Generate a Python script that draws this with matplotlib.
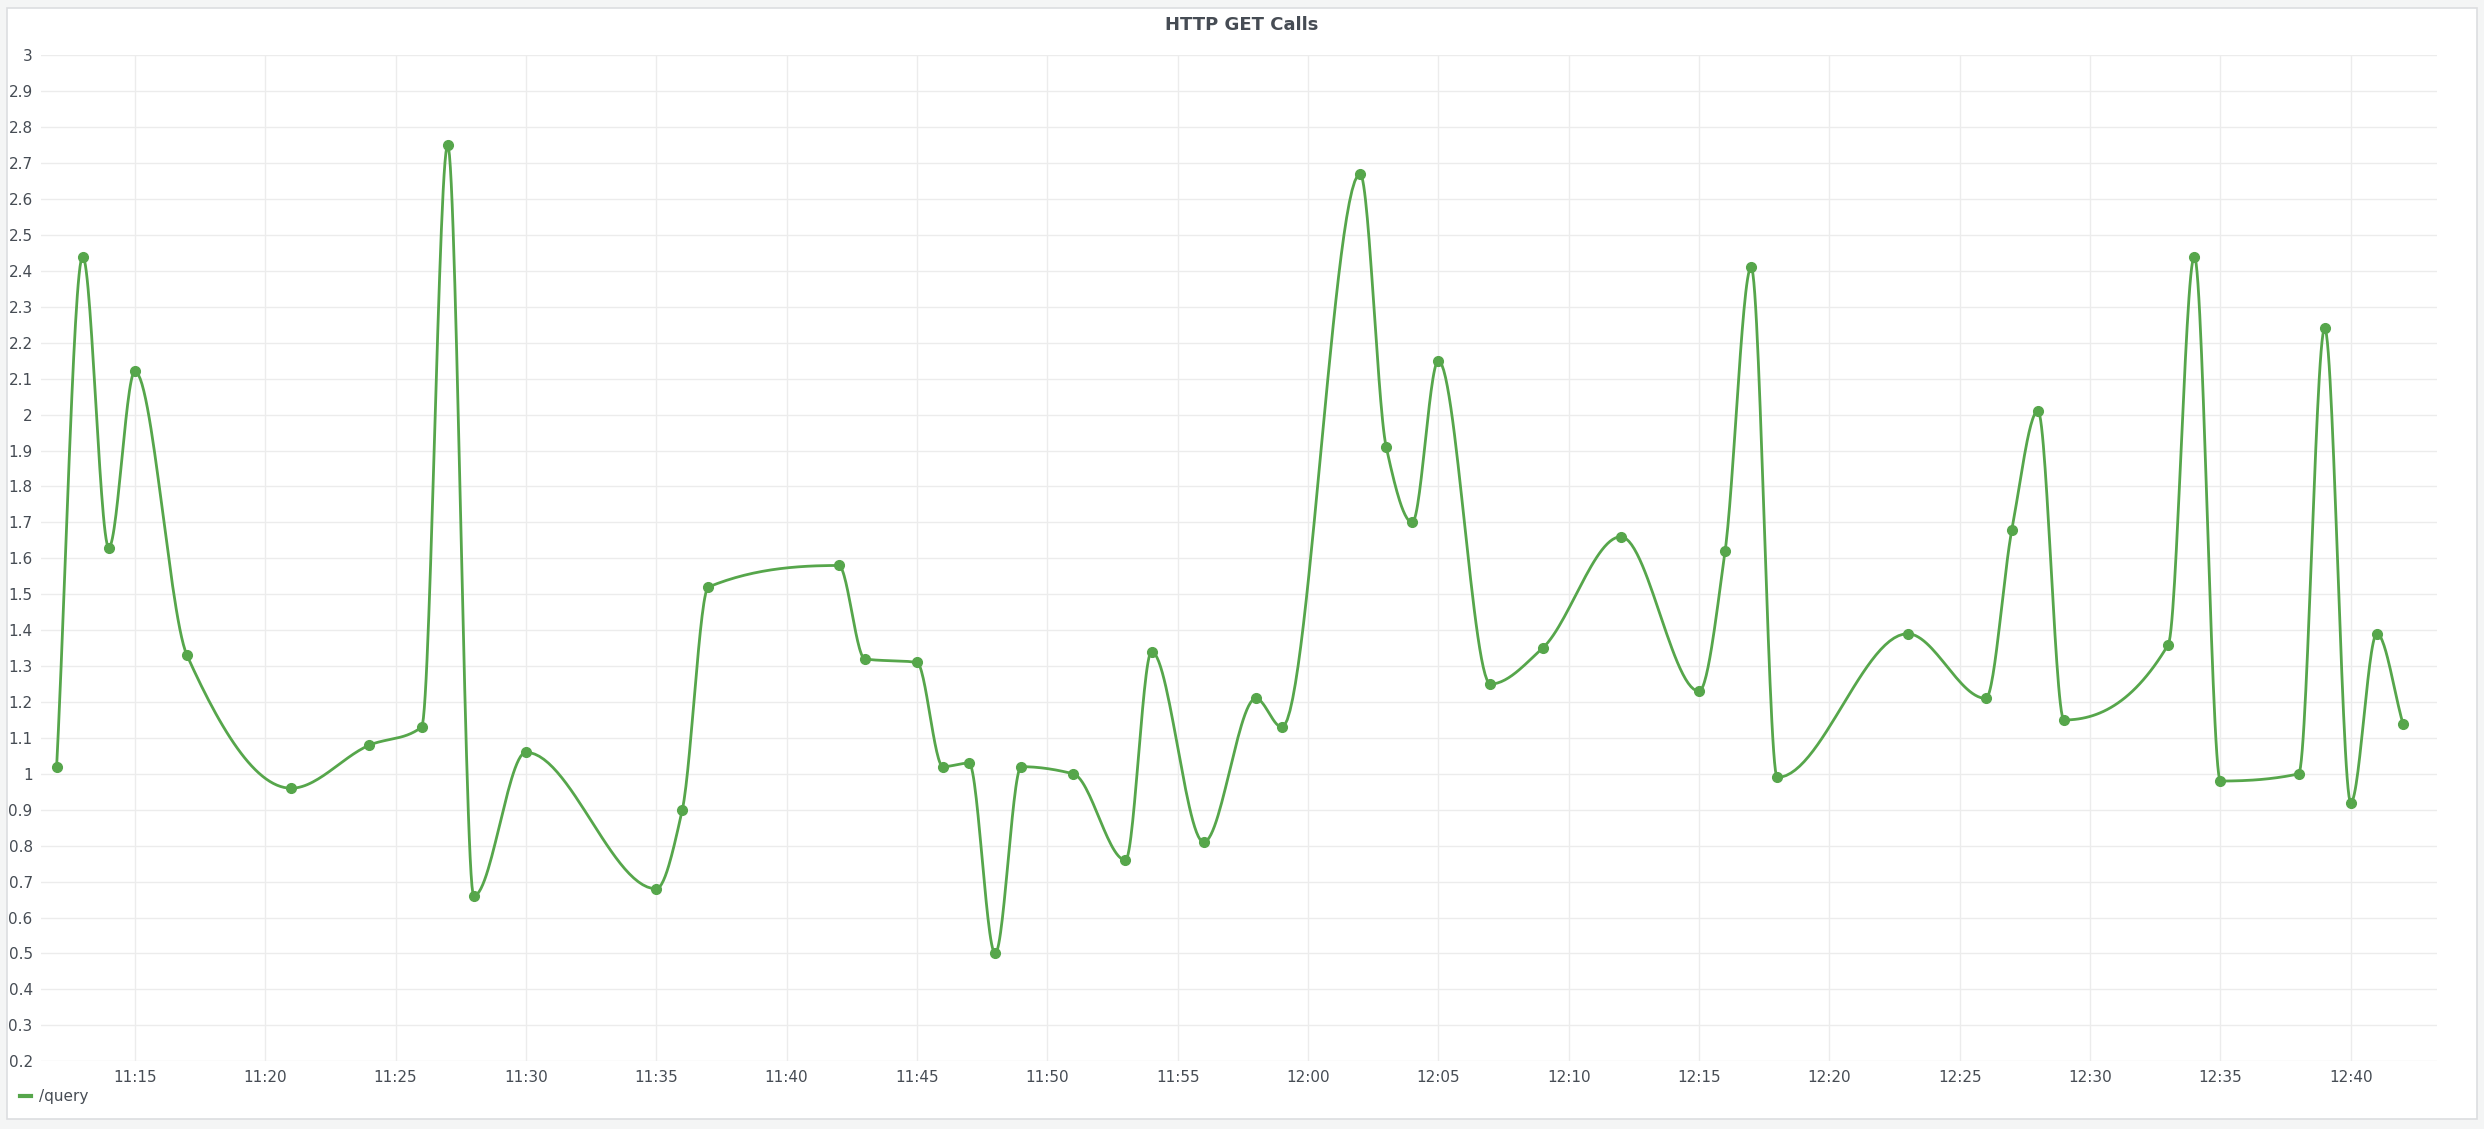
import matplotlib.pyplot as plt
from matplotlib.patches import Rectangle
import numpy as np

# minutes after 11:00 and values
minutes = [12, 13, 14, 15, 17, 21, 24, 26, 27, 28, 30, 35, 36, 37, 42, 43, 45, 46, 47, 48,
           49, 51, 53, 54, 56, 58, 59, 62, 63, 64, 65, 67, 69, 72, 75, 76, 77, 78, 83, 86,
           87, 88, 89, 93, 94, 95, 98, 99, 100, 101, 102]
calls = [1.02, 2.44, 1.63, 2.12, 1.33, 0.96, 1.08, 1.13, 2.75, 0.66, 1.06, 0.68, 0.90, 1.52,
         1.58, 1.32, 1.31, 1.02, 1.03, 0.50, 1.02, 1.00, 0.76, 1.34, 0.81, 1.21, 1.13, 2.67,
         1.91, 1.70, 2.15, 1.25, 1.35, 1.66, 1.23, 1.62, 2.41, 0.99, 1.39, 1.21, 1.68, 2.01,
         1.15, 1.36, 2.44, 0.98, 1.00, 2.24, 0.92, 1.39, 1.14]
tick_minutes = list(range(15, 101, 5))
tick_labels = ["11:%02d" % m if m < 60 else "12:%02d" % (m - 60) for m in tick_minutes]

green = "#56a64b"


def monotone(x, y, n=30):
    x = np.asarray(x, float); y = np.asarray(y, float)
    h = np.diff(x); d = np.diff(y) / h
    m = np.zeros_like(y)
    m[0], m[-1] = d[0], d[-1]
    for i in range(1, len(y) - 1):
        if d[i - 1] * d[i] > 0:
            w1 = 2 * h[i] + h[i - 1]; w2 = h[i] + 2 * h[i - 1]
            m[i] = (w1 + w2) / (w1 / d[i - 1] + w2 / d[i])
    xs, ys = [], []
    for i in range(len(h)):
        t = np.linspace(0, 1, n)
        h00 = 2*t**3 - 3*t**2 + 1; h10 = t**3 - 2*t**2 + t
        h01 = -2*t**3 + 3*t**2; h11 = t**3 - t**2
        xs.append(x[i] + t * h[i])
        ys.append(h00*y[i] + h10*h[i]*m[i] + h01*y[i+1] + h11*h[i]*m[i+1])
    return np.concatenate(xs), np.concatenate(ys)


fig = plt.figure(figsize=(24.84, 11.29), dpi=100, facecolor="#f4f5f5")
fig.patches.append(Rectangle((0.003, 0.009), 0.994, 0.984, transform=fig.transFigure,
                             facecolor="white", edgecolor="#dcdee0", lw=1.2, zorder=-10))
ax = fig.add_axes([0.0165, 0.060, 0.9645, 0.891])
ax.set_facecolor("none")

sx, sy = monotone(minutes, calls)
ax.plot(sx, sy, color=green, lw=2)
ax.plot(minutes, calls, "o", color=green, ms=7)

ax.set_ylim(0.2, 3.0)
ax.set_xlim(11.4, 103.3)
ax.set_yticks(np.round(np.arange(0.2, 3.01, 0.1), 1))
ax.set_yticklabels([("%g" % v) for v in np.round(np.arange(0.2, 3.01, 0.1), 1)])
ax.set_xticks(tick_minutes)
ax.set_xticklabels(tick_labels)
ax.grid(color="#ececec", lw=1)
for s in ax.spines.values():
    s.set_visible(False)
ax.tick_params(length=0, labelsize=11, colors="#464c54", pad=6)

fig.text(0.5, 0.978, "HTTP GET Calls", ha="center", va="center", fontsize=13,
         fontweight="bold", color="#464c54")
fig.lines.append(plt.Line2D([0.008, 0.0125], [0.029, 0.029], transform=fig.transFigure,
                            color=green, lw=3))
fig.text(0.0155, 0.029, "/query", va="center", fontsize=11, color="#464c54")

plt.savefig("out.png", facecolor=fig.get_facecolor())
